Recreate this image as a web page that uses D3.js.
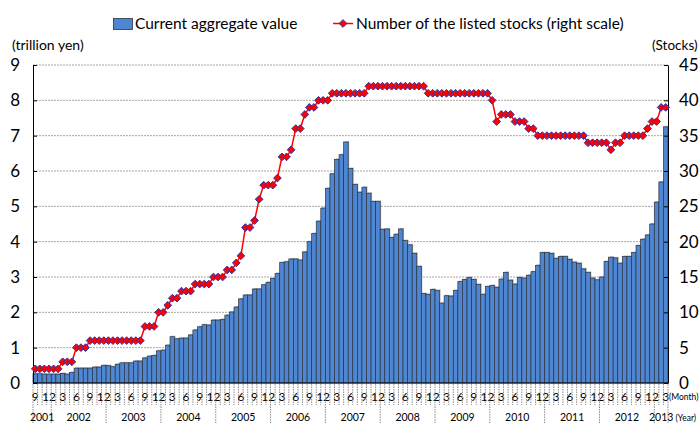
<!DOCTYPE html>
<html>
<head>
<meta charset="utf-8">
<script src="https://cdn.jsdelivr.net/npm/d3@7"></script>
<style>
  body { margin: 0; background: #fff; }
  svg { display: block; font-family: Lato, 'Liberation Sans', sans-serif; }
</style>
</head>
<body>
<svg></svg>
<script>
const months = [
  '2001-09', '2001-10', '2001-11', '2001-12',
  '2002-01', '2002-02', '2002-03', '2002-04', '2002-05', '2002-06', '2002-07', '2002-08', '2002-09', '2002-10', '2002-11', '2002-12',
  '2003-01', '2003-02', '2003-03', '2003-04', '2003-05', '2003-06', '2003-07', '2003-08', '2003-09', '2003-10', '2003-11', '2003-12',
  '2004-01', '2004-02', '2004-03', '2004-04', '2004-05', '2004-06', '2004-07', '2004-08', '2004-09', '2004-10', '2004-11', '2004-12',
  '2005-01', '2005-02', '2005-03', '2005-04', '2005-05', '2005-06', '2005-07', '2005-08', '2005-09', '2005-10', '2005-11', '2005-12',
  '2006-01', '2006-02', '2006-03', '2006-04', '2006-05', '2006-06', '2006-07', '2006-08', '2006-09', '2006-10', '2006-11', '2006-12',
  '2007-01', '2007-02', '2007-03', '2007-04', '2007-05', '2007-06', '2007-07', '2007-08', '2007-09', '2007-10', '2007-11', '2007-12',
  '2008-01', '2008-02', '2008-03', '2008-04', '2008-05', '2008-06', '2008-07', '2008-08', '2008-09', '2008-10', '2008-11', '2008-12',
  '2009-01', '2009-02', '2009-03', '2009-04', '2009-05', '2009-06', '2009-07', '2009-08', '2009-09', '2009-10', '2009-11', '2009-12',
  '2010-01', '2010-02', '2010-03', '2010-04', '2010-05', '2010-06', '2010-07', '2010-08', '2010-09', '2010-10', '2010-11', '2010-12',
  '2011-01', '2011-02', '2011-03', '2011-04', '2011-05', '2011-06', '2011-07', '2011-08', '2011-09', '2011-10', '2011-11', '2011-12',
  '2012-01', '2012-02', '2012-03', '2012-04', '2012-05', '2012-06', '2012-07', '2012-08', '2012-09', '2012-10', '2012-11', '2012-12',
  '2013-01', '2013-02', '2013-03'
];

// trillion yen
const aggregateValue = [
  0.26, 0.26, 0.25, 0.25,
  0.25, 0.25, 0.27, 0.25, 0.30, 0.42, 0.42, 0.42, 0.42, 0.45, 0.45, 0.50,
  0.49, 0.46, 0.53, 0.57, 0.57, 0.57, 0.62, 0.62, 0.71, 0.76, 0.78, 0.91,
  0.93, 1.07, 1.31, 1.25, 1.27, 1.27, 1.36, 1.50, 1.59, 1.65, 1.64, 1.78,
  1.78, 1.80, 1.92, 2.01, 2.15, 2.38, 2.49, 2.49, 2.66, 2.66, 2.78, 2.85,
  2.96, 3.10, 3.41, 3.43, 3.51, 3.51, 3.48, 3.71, 4.00, 4.23, 4.58, 4.95,
  5.51, 5.92, 6.33, 6.46, 6.82, 6.07, 5.62, 5.40, 5.54, 5.37, 5.14, 5.14,
  4.35, 4.36, 4.12, 4.21, 4.36, 4.03, 3.91, 3.67, 3.30, 2.53, 2.51, 2.65,
  2.62, 2.26, 2.47, 2.46, 2.62, 2.87, 2.93, 2.99, 2.93, 2.79, 2.51, 2.73,
  2.76, 2.71, 2.94, 3.13, 2.91, 2.80, 2.99, 2.97, 3.05, 3.15, 3.33, 3.69,
  3.69, 3.67, 3.53, 3.58, 3.58, 3.50, 3.42, 3.39, 3.23, 3.13, 2.97, 2.92,
  3.00, 3.44, 3.56, 3.54, 3.39, 3.58, 3.58, 3.69, 3.89, 4.07, 4.19, 4.50,
  5.12, 5.69, 7.25
];

// number of listed stocks (right scale)
const listedStocks = [
  2, 2, 2, 2,
  2, 2, 3, 3, 3, 5, 5, 5, 6, 6, 6, 6,
  6, 6, 6, 6, 6, 6, 6, 6, 8, 8, 8, 10,
  10, 11, 12, 12, 13, 13, 13, 14, 14, 14, 14, 15,
  15, 15, 16, 16, 17, 18, 22, 22, 23, 26, 28, 28,
  28, 29, 32, 32, 33, 36, 36, 38, 39, 39, 40, 40,
  40, 41, 41, 41, 41, 41, 41, 41, 41, 42, 42, 42,
  42, 42, 42, 42, 42, 42, 42, 42, 42, 42, 41, 41,
  41, 41, 41, 41, 41, 41, 41, 41, 41, 41, 41, 41,
  40, 37, 38, 38, 38, 37, 37, 37, 36, 36, 35, 35,
  35, 35, 35, 35, 35, 35, 35, 35, 35, 34, 34, 34,
  34, 34, 33, 34, 34, 35, 35, 35, 35, 35, 36, 37,
  37, 39, 39
];

const leftTicks = [0, 1, 2, 3, 4, 5, 6, 7, 8, 9];
const rightTicks = [0, 5, 10, 15, 20, 25, 30, 35, 40, 45];
const labelledMonths = ['03', '06', '09', '12'];

const w = 699;
const h = 424;
const plotLeft = 33;
const plotRight = 668;
const plotTop = 65;
const plotBottom = 383;

const svg = d3.select('svg').attr('width', w).attr('height', h);

const xScale = d3.scaleBand().domain(months).range([plotLeft, plotRight]).padding(0);
const yLeft = d3.scaleLinear().domain([0, 9]).range([plotBottom, plotTop]);
const yRight = d3.scaleLinear().domain([0, 45]).range([plotBottom, plotTop]);

// gridlines
svg
  .append('g')
  .selectAll('line')
  .data(leftTicks.slice(1))
  .enter()
  .append('line')
  .attr('x1', plotLeft)
  .attr('x2', plotRight)
  .attr('y1', (d) => yLeft(d))
  .attr('y2', (d) => yLeft(d))
  .attr('stroke', '#a6a6a6')
  .attr('stroke-width', 1)
  .attr('stroke-dasharray', '2,1');

// bars with a light shadow
const bars = svg.append('g');
bars
  .selectAll('rect.shadow')
  .data(aggregateValue)
  .enter()
  .append('rect')
  .attr('class', 'shadow')
  .attr('x', (d, i) => xScale(months[i]) + 1)
  .attr('y', (d) => yLeft(d) - 1)
  .attr('width', xScale.bandwidth())
  .attr('height', (d) => plotBottom - yLeft(d))
  .attr('fill', '#b8b8b8');
bars
  .selectAll('rect.bar')
  .data(aggregateValue)
  .enter()
  .append('rect')
  .attr('class', 'bar')
  .attr('x', (d, i) => xScale(months[i]))
  .attr('y', (d) => yLeft(d))
  .attr('width', xScale.bandwidth())
  .attr('height', (d) => plotBottom - yLeft(d))
  .attr('fill', '#4f86d2')
  .attr('stroke', '#2b3440')
  .attr('stroke-width', 0.7);

// axes
const leftAxis = d3.axisLeft(yLeft).tickValues(leftTicks).tickSizeInner(-4).tickSizeOuter(0).tickPadding(13);
svg
  .append('g')
  .attr('transform', `translate(${plotLeft},0)`)
  .call(leftAxis)
  .call((g) => g.selectAll('text').attr('font-size', 17).attr('font-family', 'Lato').attr('fill', '#000'))
  .call((g) => g.select('.domain').attr('stroke', '#000'));

const rightAxis = d3.axisRight(yRight).tickValues(rightTicks).tickSizeInner(-4).tickSizeOuter(0).tickPadding(11);
svg
  .append('g')
  .attr('transform', `translate(${plotRight},0)`)
  .call(rightAxis)
  .call((g) => g.selectAll('text').attr('font-size', 17).attr('font-family', 'Lato').attr('fill', '#000'))
  .call((g) => g.select('.domain').attr('stroke', '#000'));

svg
  .append('line')
  .attr('x1', plotLeft)
  .attr('x2', plotRight)
  .attr('y1', plotBottom)
  .attr('y2', plotBottom)
  .attr('stroke', '#000')
  .attr('stroke-width', 1.2);

// month separators and labels
const ticks = svg.append('g');
months.forEach((m, i) => {
  const x0 = xScale(m);
  const isYearStart = m.endsWith('-01') || i === 0;
  ticks
    .append('line')
    .attr('x1', x0)
    .attr('x2', x0)
    .attr('y1', plotBottom + 1)
    .attr('y2', isYearStart ? h : 405)
    .attr('stroke', '#8c8c8c')
    .attr('stroke-dasharray', '1.5,1');
  const mm = m.split('-')[1];
  if (labelledMonths.includes(mm)) {
    ticks
      .append('text')
      .attr('x', x0 + xScale.bandwidth() / 2)
      .attr('y', 401)
      .attr('text-anchor', 'middle')
      .attr('font-size', 12)
      .text(String(+mm));
  }
});
ticks
  .append('line')
  .attr('x1', plotRight)
  .attr('x2', plotRight)
  .attr('y1', plotBottom + 1)
  .attr('y2', h)
  .attr('stroke', '#8c8c8c')
  .attr('stroke-dasharray', '1.5,1');

const years = d3.groups(months, (m) => m.slice(0, 4));
ticks
  .selectAll('text.year')
  .data(years)
  .enter()
  .append('text')
  .attr('class', 'year')
  .attr('x', (d) => {
    const a = xScale(d[1][0]);
    const b = xScale(d[1][d[1].length - 1]) + xScale.bandwidth();
    return (a + b) / 2;
  })
  .attr('y', 421)
  .attr('text-anchor', 'middle')
  .attr('font-size', 10.5)
  .text((d) => d[0]);

svg.append('text').attr('x', 669).attr('y', 400).attr('font-size', 8.5).text('(Month)');
svg.append('text').attr('x', 675.5).attr('y', 421).attr('font-size', 8.5).text('(Year)');

// line for listed stocks
const line = d3
  .line()
  .x((d, i) => xScale(months[i]) + xScale.bandwidth() / 2)
  .y((d) => yRight(d));

svg
  .append('path')
  .datum(listedStocks)
  .attr('d', line)
  .attr('fill', 'none')
  .attr('stroke', '#ff0000')
  .attr('stroke-width', 1.5);

const diamond = d3.symbol().type(d3.symbolDiamond2).size(38);
svg
  .append('g')
  .selectAll('path')
  .data(listedStocks)
  .enter()
  .append('path')
  .attr('d', diamond)
  .attr('transform', (d, i) => `translate(${xScale(months[i]) + xScale.bandwidth() / 2},${yRight(d)})`)
  .attr('fill', '#ff0000')
  .attr('stroke', '#3b2ea0')
  .attr('stroke-width', 1);

// axis titles
svg.append('text').attr('x', 12).attr('y', 50).attr('font-size', 14).text('(trillion yen)');
svg.append('text').attr('x', 652).attr('y', 50).attr('font-size', 13.5).text('(Stocks)');

// legend
svg
  .append('rect')
  .attr('x', 113.5)
  .attr('y', 18.5)
  .attr('width', 19)
  .attr('height', 11)
  .attr('fill', '#4f86d2')
  .attr('stroke', '#2b3440')
  .attr('stroke-width', 0.8);
svg.append('text').attr('x', 135).attr('y', 29).attr('font-size', 15.5).text('Current aggregate value');

svg
  .append('line')
  .attr('x1', 333)
  .attr('x2', 353)
  .attr('y1', 23.5)
  .attr('y2', 23.5)
  .attr('stroke', '#ff0000')
  .attr('stroke-width', 1.5);
svg
  .append('path')
  .attr('d', diamond)
  .attr('transform', 'translate(343,23.5)')
  .attr('fill', '#ff0000')
  .attr('stroke', '#3b2ea0')
  .attr('stroke-width', 1);
svg.append('text').attr('x', 356).attr('y', 29).attr('font-size', 15.5).text('Number of the listed stocks (right scale)');
</script>
</body>
</html>
